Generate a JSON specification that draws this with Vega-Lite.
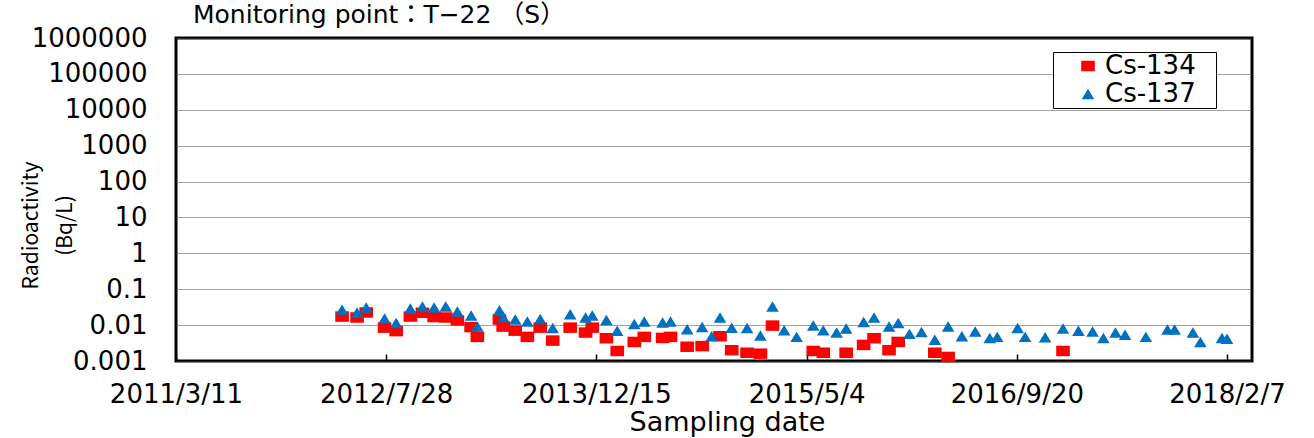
{
  "$schema": "https://vega.github.io/schema/vega-lite/v6.json",
  "width": 1076,
  "height": 323,
  "autosize": "none",
  "padding": {"left": 176, "top": 38, "right": 62, "bottom": 77},
  "background": "white",
  "title": {
    "text": "Monitoring point：T−22 （S）",
    "anchor": "start",
    "frame": "group",
    "orient": "top",
    "offset": 0,
    "dx": 17,
    "dy": 23,
    "baseline": "alphabetic",
    "font": "DejaVu Sans, Noto Sans CJK JP",
    "fontSize": 25,
    "fontWeight": "normal",
    "color": "black"
  },
  "config": {
    "view": {"stroke": "black", "strokeWidth": 3},
    "font": "DejaVu Sans"
  },
  "data": {
    "values": [
      {"date": "2012-04-13", "nuclide": "Cs-134", "value": 0.0173},
      {"date": "2012-05-19", "nuclide": "Cs-134", "value": 0.0163},
      {"date": "2012-06-10", "nuclide": "Cs-134", "value": 0.0225},
      {"date": "2012-07-24", "nuclide": "Cs-134", "value": 0.0085},
      {"date": "2012-08-21", "nuclide": "Cs-134", "value": 0.0068},
      {"date": "2012-09-24", "nuclide": "Cs-134", "value": 0.0173},
      {"date": "2012-10-23", "nuclide": "Cs-134", "value": 0.022},
      {"date": "2012-11-20", "nuclide": "Cs-134", "value": 0.0168},
      {"date": "2012-12-18", "nuclide": "Cs-134", "value": 0.0163},
      {"date": "2013-01-15", "nuclide": "Cs-134", "value": 0.0135},
      {"date": "2013-02-17", "nuclide": "Cs-134", "value": 0.0088},
      {"date": "2013-03-04", "nuclide": "Cs-134", "value": 0.0047},
      {"date": "2013-04-26", "nuclide": "Cs-134", "value": 0.0143},
      {"date": "2013-05-05", "nuclide": "Cs-134", "value": 0.0091},
      {"date": "2013-06-03", "nuclide": "Cs-134", "value": 0.0070},
      {"date": "2013-07-02", "nuclide": "Cs-134", "value": 0.0047},
      {"date": "2013-08-02", "nuclide": "Cs-134", "value": 0.0085},
      {"date": "2013-09-01", "nuclide": "Cs-134", "value": 0.0037},
      {"date": "2013-10-13", "nuclide": "Cs-134", "value": 0.0085},
      {"date": "2013-11-19", "nuclide": "Cs-134", "value": 0.0062},
      {"date": "2013-12-05", "nuclide": "Cs-134", "value": 0.0085},
      {"date": "2014-01-08", "nuclide": "Cs-134", "value": 0.0043},
      {"date": "2014-02-03", "nuclide": "Cs-134", "value": 0.0019},
      {"date": "2014-03-16", "nuclide": "Cs-134", "value": 0.0034},
      {"date": "2014-04-09", "nuclide": "Cs-134", "value": 0.0047},
      {"date": "2014-05-23", "nuclide": "Cs-134", "value": 0.0044},
      {"date": "2014-06-11", "nuclide": "Cs-134", "value": 0.0047},
      {"date": "2014-07-21", "nuclide": "Cs-134", "value": 0.0025},
      {"date": "2014-08-26", "nuclide": "Cs-134", "value": 0.0026},
      {"date": "2014-10-08", "nuclide": "Cs-134", "value": 0.0049},
      {"date": "2014-11-05", "nuclide": "Cs-134", "value": 0.0020},
      {"date": "2014-12-12", "nuclide": "Cs-134", "value": 0.0017},
      {"date": "2015-01-13", "nuclide": "Cs-134", "value": 0.0016},
      {"date": "2015-02-11", "nuclide": "Cs-134", "value": 0.0097},
      {"date": "2015-05-20", "nuclide": "Cs-134", "value": 0.0019},
      {"date": "2015-06-13", "nuclide": "Cs-134", "value": 0.0017},
      {"date": "2015-08-07", "nuclide": "Cs-134", "value": 0.0017},
      {"date": "2015-09-18", "nuclide": "Cs-134", "value": 0.0028},
      {"date": "2015-10-13", "nuclide": "Cs-134", "value": 0.0043},
      {"date": "2015-11-18", "nuclide": "Cs-134", "value": 0.0020},
      {"date": "2015-12-10", "nuclide": "Cs-134", "value": 0.0034},
      {"date": "2016-03-07", "nuclide": "Cs-134", "value": 0.0017},
      {"date": "2016-04-08", "nuclide": "Cs-134", "value": 0.0013},
      {"date": "2017-01-09", "nuclide": "Cs-134", "value": 0.0019},
      {"date": "2012-04-13", "nuclide": "Cs-137", "value": 0.027},
      {"date": "2012-05-19", "nuclide": "Cs-137", "value": 0.0225},
      {"date": "2012-06-10", "nuclide": "Cs-137", "value": 0.031},
      {"date": "2012-07-24", "nuclide": "Cs-137", "value": 0.0152},
      {"date": "2012-08-21", "nuclide": "Cs-137", "value": 0.0114},
      {"date": "2012-09-24", "nuclide": "Cs-137", "value": 0.029},
      {"date": "2012-10-23", "nuclide": "Cs-137", "value": 0.033},
      {"date": "2012-11-20", "nuclide": "Cs-137", "value": 0.031},
      {"date": "2012-12-18", "nuclide": "Cs-137", "value": 0.033},
      {"date": "2013-01-15", "nuclide": "Cs-137", "value": 0.024},
      {"date": "2013-02-17", "nuclide": "Cs-137", "value": 0.0185},
      {"date": "2013-03-04", "nuclide": "Cs-137", "value": 0.0091},
      {"date": "2013-04-26", "nuclide": "Cs-137", "value": 0.026},
      {"date": "2013-05-05", "nuclide": "Cs-137", "value": 0.0168},
      {"date": "2013-06-03", "nuclide": "Cs-137", "value": 0.0143},
      {"date": "2013-07-02", "nuclide": "Cs-137", "value": 0.0126},
      {"date": "2013-08-02", "nuclide": "Cs-137", "value": 0.0148},
      {"date": "2013-09-01", "nuclide": "Cs-137", "value": 0.0083},
      {"date": "2013-10-13", "nuclide": "Cs-137", "value": 0.020},
      {"date": "2013-11-19", "nuclide": "Cs-137", "value": 0.0163},
      {"date": "2013-12-05", "nuclide": "Cs-137", "value": 0.0185},
      {"date": "2014-01-08", "nuclide": "Cs-137", "value": 0.0139},
      {"date": "2014-02-03", "nuclide": "Cs-137", "value": 0.0070},
      {"date": "2014-03-16", "nuclide": "Cs-137", "value": 0.0107},
      {"date": "2014-04-09", "nuclide": "Cs-137", "value": 0.0126},
      {"date": "2014-05-23", "nuclide": "Cs-137", "value": 0.0118},
      {"date": "2014-06-11", "nuclide": "Cs-137", "value": 0.0126},
      {"date": "2014-07-21", "nuclide": "Cs-137", "value": 0.0077},
      {"date": "2014-08-26", "nuclide": "Cs-137", "value": 0.0088},
      {"date": "2014-09-18", "nuclide": "Cs-137", "value": 0.0049},
      {"date": "2014-10-08", "nuclide": "Cs-137", "value": 0.0163},
      {"date": "2014-11-05", "nuclide": "Cs-137", "value": 0.0085},
      {"date": "2014-12-12", "nuclide": "Cs-137", "value": 0.0083},
      {"date": "2015-01-13", "nuclide": "Cs-137", "value": 0.0051},
      {"date": "2015-02-11", "nuclide": "Cs-137", "value": 0.033},
      {"date": "2015-03-11", "nuclide": "Cs-137", "value": 0.0072},
      {"date": "2015-04-10", "nuclide": "Cs-137", "value": 0.0047},
      {"date": "2015-05-20", "nuclide": "Cs-137", "value": 0.0097},
      {"date": "2015-06-13", "nuclide": "Cs-137", "value": 0.0072},
      {"date": "2015-07-15", "nuclide": "Cs-137", "value": 0.0062},
      {"date": "2015-08-07", "nuclide": "Cs-137", "value": 0.0080},
      {"date": "2015-09-18", "nuclide": "Cs-137", "value": 0.0122},
      {"date": "2015-10-13", "nuclide": "Cs-137", "value": 0.0163},
      {"date": "2015-11-18", "nuclide": "Cs-137", "value": 0.0091},
      {"date": "2015-12-10", "nuclide": "Cs-137", "value": 0.0114},
      {"date": "2016-01-06", "nuclide": "Cs-137", "value": 0.0057},
      {"date": "2016-02-04", "nuclide": "Cs-137", "value": 0.0064},
      {"date": "2016-03-07", "nuclide": "Cs-137", "value": 0.0039},
      {"date": "2016-04-08", "nuclide": "Cs-137", "value": 0.0091},
      {"date": "2016-05-11", "nuclide": "Cs-137", "value": 0.0049},
      {"date": "2016-06-12", "nuclide": "Cs-137", "value": 0.0066},
      {"date": "2016-07-17", "nuclide": "Cs-137", "value": 0.0044},
      {"date": "2016-08-04", "nuclide": "Cs-137", "value": 0.0047},
      {"date": "2016-09-22", "nuclide": "Cs-137", "value": 0.0083},
      {"date": "2016-10-10", "nuclide": "Cs-137", "value": 0.0047},
      {"date": "2016-11-27", "nuclide": "Cs-137", "value": 0.0046},
      {"date": "2017-01-09", "nuclide": "Cs-137", "value": 0.0080},
      {"date": "2017-02-15", "nuclide": "Cs-137", "value": 0.0070},
      {"date": "2017-03-21", "nuclide": "Cs-137", "value": 0.0066},
      {"date": "2017-04-16", "nuclide": "Cs-137", "value": 0.0044},
      {"date": "2017-05-15", "nuclide": "Cs-137", "value": 0.0062},
      {"date": "2017-06-07", "nuclide": "Cs-137", "value": 0.0054},
      {"date": "2017-07-27", "nuclide": "Cs-137", "value": 0.0047},
      {"date": "2017-09-17", "nuclide": "Cs-137", "value": 0.0075},
      {"date": "2017-10-04", "nuclide": "Cs-137", "value": 0.0075},
      {"date": "2017-11-17", "nuclide": "Cs-137", "value": 0.0062},
      {"date": "2017-12-05", "nuclide": "Cs-137", "value": 0.0034},
      {"date": "2018-01-26", "nuclide": "Cs-137", "value": 0.0044},
      {"date": "2018-02-07", "nuclide": "Cs-137", "value": 0.0042}
    ]
  },
  "mark": {"type": "point", "filled": true, "opacity": 1, "strokeWidth": 0, "size": 110},
  "encoding": {
    "x": {
      "field": "date",
      "type": "temporal",
      "scale": {
        "type": "utc",
        "domain": [
          {"year": 2011, "month": 3, "date": 11, "utc": true},
          {"year": 2018, "month": 4, "date": 8, "utc": true}
        ],
        "nice": false
      },
      "axis": {
        "values": [
          {"year": 2011, "month": 3, "date": 11, "utc": true},
          {"year": 2012, "month": 7, "date": 28, "utc": true},
          {"year": 2013, "month": 12, "date": 15, "utc": true},
          {"year": 2015, "month": 5, "date": 4, "utc": true},
          {"year": 2016, "month": 9, "date": 20, "utc": true},
          {"year": 2018, "month": 2, "date": 7, "utc": true}
        ],
        "format": "%Y/%-m/%-d",
        "labelFont": "DejaVu Sans",
        "labelFontSize": 26,
        "labelColor": "black",
        "labelFlush": false,
        "labelOverlap": false,
        "tickColor": "black",
        "tickSize": -7,
        "tickWidth": 1.5,
        "labelPadding": 27,
        "domain": false,
        "grid": false,
        "title": "Sampling date",
        "titleFont": "DejaVu Sans",
        "titleFontSize": 27,
        "titleFontWeight": "normal",
        "titleColor": "black",
        "titleX": 551,
        "titleY": 69,
        "titleBaseline": "alphabetic",
        "titleAlign": "center"
      }
    },
    "y": {
      "field": "value",
      "type": "quantitative",
      "scale": {"type": "log", "domain": [0.001, 1000000], "nice": false},
      "axis": {
        "values": [0.001, 0.01, 0.1, 1, 10, 100, 1000, 10000, 100000, 1000000],
        "format": "~f",
        "labelFont": "DejaVu Sans",
        "labelFontSize": 26,
        "labelColor": "black",
        "labelFlush": false,
        "labelOverlap": false,
        "ticks": false,
        "tickSize": 0,
        "domain": false,
        "grid": true,
        "gridColor": "#444444",
        "gridDash": [1, 1],
        "gridWidth": 1,
        "labelPadding": 29,
        "title": ["Radioactivity", "(Bq/L)"],
        "titleFont": "Noto Sans CJK JP",
        "titleFontSize": 21,
        "titleFontWeight": "normal",
        "titleColor": "black",
        "titleAngle": 270,
        "titleX": -145,
        "titleY": 187,
        "titleAlign": "center",
        "titleBaseline": "middle",
        "titleLineHeight": 34
      }
    },
    "color": {
      "field": "nuclide",
      "type": "nominal",
      "scale": {"domain": ["Cs-134", "Cs-137"], "range": ["#FF0000", "#0070C0"]},
      "legend": {
        "orient": "none",
        "legendX": 877,
        "legendY": 14,
        "title": null,
        "direction": "vertical",
        "fillColor": "white",
        "strokeColor": "black",
        "padding": 1,
        "symbolOffset": 21,
        "labelOffset": 4,
        "rowPadding": 2,
        "labelFont": "DejaVu Sans",
        "labelFontSize": 26,
        "labelColor": "black",
        "symbolSize": 110,
        "symbolStrokeWidth": 0,
        "labelExpr": "datum.label + '\u2800'"
      }
    },
    "shape": {
      "field": "nuclide",
      "type": "nominal",
      "scale": {"domain": ["Cs-134", "Cs-137"], "range": ["M-1.3,-1H1.3V1H-1.3Z", "M0,-1L1.2,1H-1.2Z"]},
      "legend": {
        "orient": "none",
        "legendX": 877,
        "legendY": 14,
        "title": null,
        "direction": "vertical",
        "fillColor": "white",
        "strokeColor": "black",
        "padding": 1,
        "symbolOffset": 21,
        "labelOffset": 4,
        "rowPadding": 2,
        "labelFont": "DejaVu Sans",
        "labelFontSize": 26,
        "labelColor": "black",
        "symbolSize": 110,
        "symbolStrokeWidth": 0,
        "labelExpr": "datum.label + '\u2800'"
      }
    }
  }
}
